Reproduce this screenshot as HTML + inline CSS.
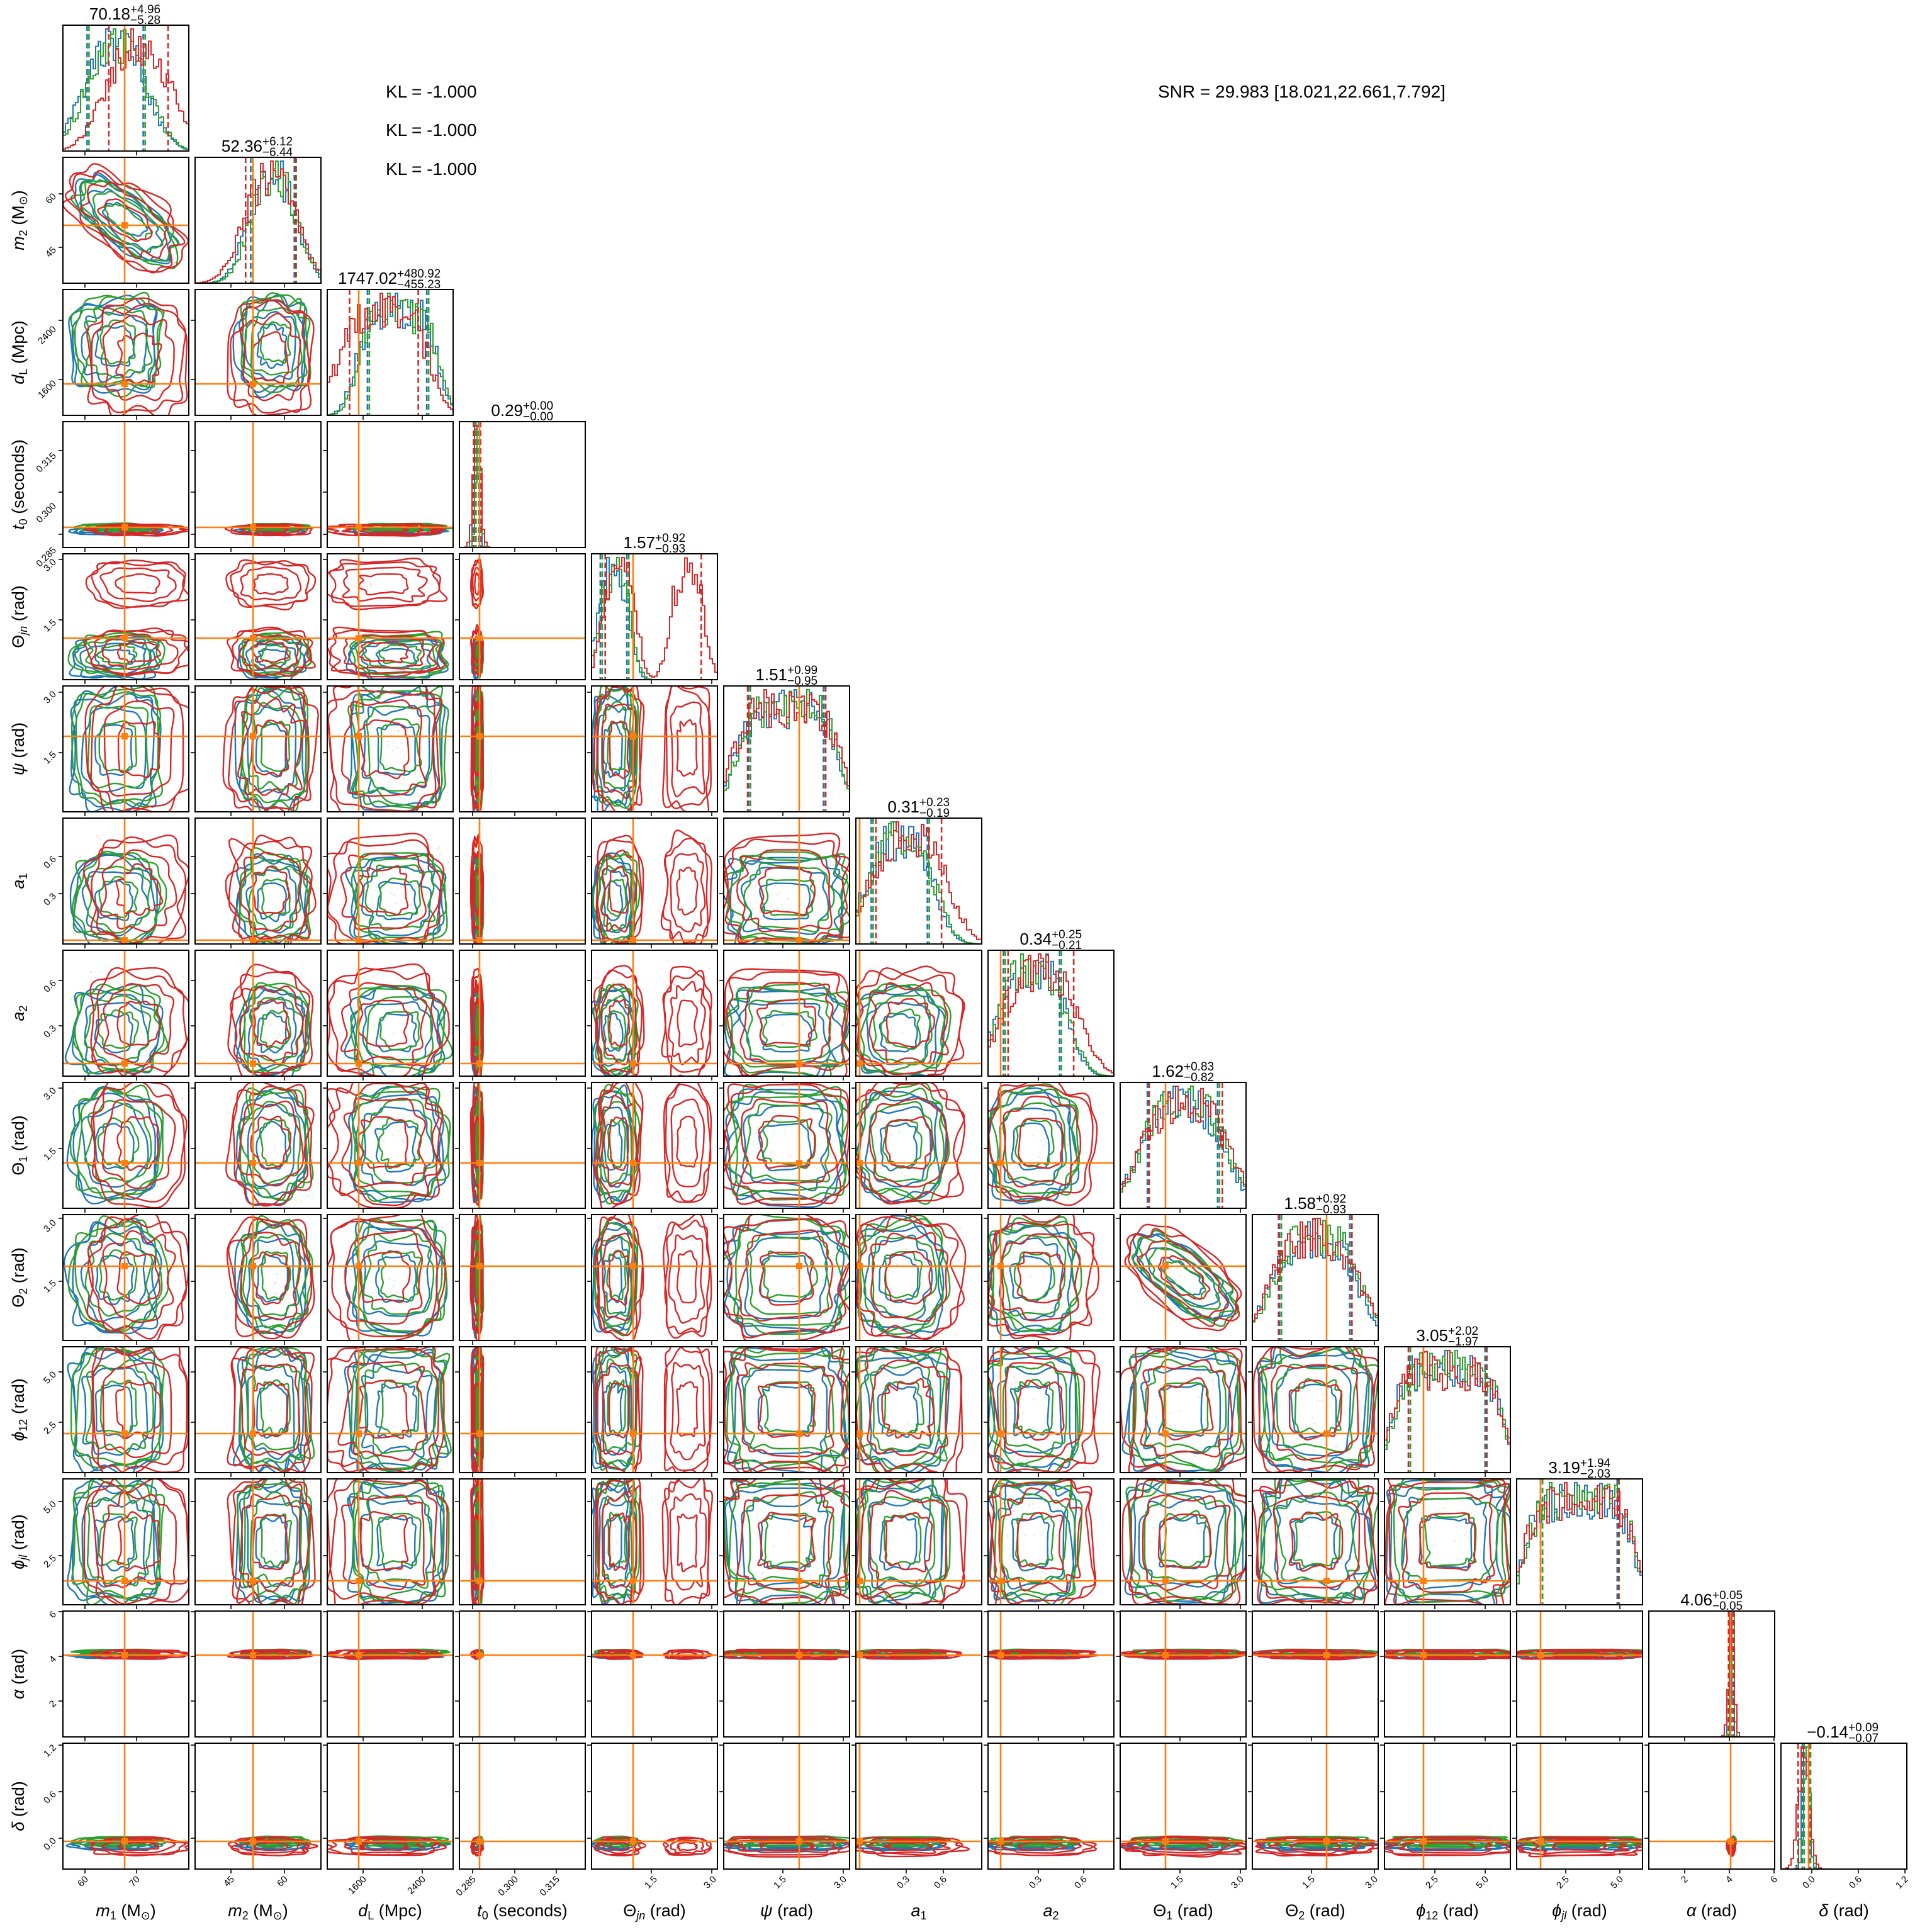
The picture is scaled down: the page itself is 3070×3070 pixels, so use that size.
<!DOCTYPE html>
<html><head><meta charset="utf-8"><style>
html,body{margin:0;padding:0;background:#fff;}
svg{display:block;font-family:"Liberation Sans","DejaVu Sans",sans-serif;}
.t{font-size:26px;fill:#000}
.s{font-size:19px;fill:#000}
.k{font-size:15px;fill:#000}
.l{font-size:27px;fill:#000}
.i{font-style:italic}
</style></head><body>
<svg id="s" xmlns="http://www.w3.org/2000/svg" width="3070" height="3070" viewBox="0 0 3070 3070">
<rect width="3070" height="3070" fill="#fff"/>
<g id="g"></g>

<g>
<text class="t" x="207" y="31" text-anchor="end">70.18</text><text class="s" x="207" y="21">+4.96</text><text class="s" x="207" y="38">−5.28</text>
<text class="t" x="417" y="241" text-anchor="end">52.36</text><text class="s" x="417" y="231">+6.12</text><text class="s" x="417" y="248">−6.44</text>
<text class="t" x="631" y="451" text-anchor="end">1747.02</text><text class="s" x="631" y="441">+480.92</text><text class="s" x="631" y="458">−455.23</text>
<text class="t" x="831" y="661" text-anchor="end">0.29</text><text class="s" x="831" y="651">+0.00</text><text class="s" x="831" y="668">−0.00</text>
<text class="t" x="1041" y="871" text-anchor="end">1.57</text><text class="s" x="1041" y="861">+0.92</text><text class="s" x="1041" y="878">−0.93</text>
<text class="t" x="1251" y="1081" text-anchor="end">1.51</text><text class="s" x="1251" y="1071">+0.99</text><text class="s" x="1251" y="1088">−0.95</text>
<text class="t" x="1461" y="1291" text-anchor="end">0.31</text><text class="s" x="1461" y="1281">+0.23</text><text class="s" x="1461" y="1298">−0.19</text>
<text class="t" x="1671" y="1501" text-anchor="end">0.34</text><text class="s" x="1671" y="1491">+0.25</text><text class="s" x="1671" y="1508">−0.21</text>
<text class="t" x="1881" y="1711" text-anchor="end">1.62</text><text class="s" x="1881" y="1701">+0.83</text><text class="s" x="1881" y="1718">−0.82</text>
<text class="t" x="2091" y="1921" text-anchor="end">1.58</text><text class="s" x="2091" y="1911">+0.92</text><text class="s" x="2091" y="1928">−0.93</text>
<text class="t" x="2301" y="2131" text-anchor="end">3.05</text><text class="s" x="2301" y="2121">+2.02</text><text class="s" x="2301" y="2138">−1.97</text>
<text class="t" x="2511" y="2341" text-anchor="end">3.19</text><text class="s" x="2511" y="2331">+1.94</text><text class="s" x="2511" y="2348">−2.03</text>
<text class="t" x="2721" y="2551" text-anchor="end">4.06</text><text class="s" x="2721" y="2541">+0.05</text><text class="s" x="2721" y="2558">−0.05</text>
<text class="t" x="2937" y="2761" text-anchor="end">−0.14</text><text class="s" x="2937" y="2751">+0.09</text><text class="s" x="2937" y="2768">−0.07</text>
</g>

<text font-size="28" x="613" y="155">KL = -1.000</text>
<text font-size="28" x="613" y="216">KL = -1.000</text>
<text font-size="28" x="613" y="278">KL = -1.000</text>
<text font-size="28" x="1840" y="155">SNR = 29.983 [18.021,22.661,7.792]</text>

<g class="l" text-anchor="middle">
<text transform="translate(38,350) rotate(-90)"><tspan class="i">m</tspan><tspan font-size="18" dy="5">2</tspan><tspan dy="-5"> (M</tspan><tspan font-size="18" dy="5">⊙</tspan><tspan dy="-5">)</tspan></text>
<text transform="translate(38,560) rotate(-90)"><tspan class="i">d</tspan><tspan font-size="18" dy="5">L</tspan><tspan dy="-5"> (Mpc)</tspan></text>
<text transform="translate(38,770) rotate(-90)"><tspan class="i">t</tspan><tspan font-size="18" dy="5">0</tspan><tspan dy="-5"> (seconds)</tspan></text>
<text transform="translate(38,980) rotate(-90)"><tspan>Θ</tspan><tspan class="i" font-size="18" dy="5">jn</tspan><tspan dy="-5"> (rad)</tspan></text>
<text transform="translate(38,1190) rotate(-90)"><tspan class="i">ψ</tspan><tspan> (rad)</tspan></text>
<text transform="translate(38,1400) rotate(-90)"><tspan class="i">a</tspan><tspan font-size="18" dy="5">1</tspan></text>
<text transform="translate(38,1610) rotate(-90)"><tspan class="i">a</tspan><tspan font-size="18" dy="5">2</tspan></text>
<text transform="translate(38,1820) rotate(-90)"><tspan>Θ</tspan><tspan font-size="18" dy="5">1</tspan><tspan dy="-5"> (rad)</tspan></text>
<text transform="translate(38,2030) rotate(-90)"><tspan>Θ</tspan><tspan font-size="18" dy="5">2</tspan><tspan dy="-5"> (rad)</tspan></text>
<text transform="translate(38,2240) rotate(-90)"><tspan class="i">ϕ</tspan><tspan font-size="18" dy="5">12</tspan><tspan dy="-5"> (rad)</tspan></text>
<text transform="translate(38,2450) rotate(-90)"><tspan class="i">ϕ</tspan><tspan class="i" font-size="18" dy="5">jl</tspan><tspan dy="-5"> (rad)</tspan></text>
<text transform="translate(38,2660) rotate(-90)"><tspan class="i">α</tspan><tspan> (rad)</tspan></text>
<text transform="translate(38,2870) rotate(-90)"><tspan class="i">δ</tspan><tspan> (rad)</tspan></text>
</g>

<g class="l" text-anchor="middle">
<text x="200" y="3045"><tspan class="i">m</tspan><tspan font-size="18" dy="5">1</tspan><tspan dy="-5"> (M</tspan><tspan font-size="18" dy="5">⊙</tspan><tspan dy="-5">)</tspan></text>
<text x="410" y="3045"><tspan class="i">m</tspan><tspan font-size="18" dy="5">2</tspan><tspan dy="-5"> (M</tspan><tspan font-size="18" dy="5">⊙</tspan><tspan dy="-5">)</tspan></text>
<text x="620" y="3045"><tspan class="i">d</tspan><tspan font-size="18" dy="5">L</tspan><tspan dy="-5"> (Mpc)</tspan></text>
<text x="830" y="3045"><tspan class="i">t</tspan><tspan font-size="18" dy="5">0</tspan><tspan dy="-5"> (seconds)</tspan></text>
<text x="1040" y="3045"><tspan>Θ</tspan><tspan class="i" font-size="18" dy="5">jn</tspan><tspan dy="-5"> (rad)</tspan></text>
<text x="1250" y="3045"><tspan class="i">ψ</tspan><tspan> (rad)</tspan></text>
<text x="1460" y="3045"><tspan class="i">a</tspan><tspan font-size="18" dy="5">1</tspan></text>
<text x="1670" y="3045"><tspan class="i">a</tspan><tspan font-size="18" dy="5">2</tspan></text>
<text x="1880" y="3045"><tspan>Θ</tspan><tspan font-size="18" dy="5">1</tspan><tspan dy="-5"> (rad)</tspan></text>
<text x="2090" y="3045"><tspan>Θ</tspan><tspan font-size="18" dy="5">2</tspan><tspan dy="-5"> (rad)</tspan></text>
<text x="2300" y="3045"><tspan class="i">ϕ</tspan><tspan font-size="18" dy="5">12</tspan><tspan dy="-5"> (rad)</tspan></text>
<text x="2510" y="3045"><tspan class="i">ϕ</tspan><tspan class="i" font-size="18" dy="5">jl</tspan><tspan dy="-5"> (rad)</tspan></text>
<text x="2720" y="3045"><tspan class="i">α</tspan><tspan> (rad)</tspan></text>
<text x="2930" y="3045"><tspan class="i">δ</tspan><tspan> (rad)</tspan></text>
</g>

<g class="k" text-anchor="end">
<text transform="translate(90,313) rotate(-45)">60</text>
<text transform="translate(90,398) rotate(-45)">45</text>
<text transform="translate(90,524) rotate(-45)">2400</text>
<text transform="translate(90,610) rotate(-45)">1600</text>
<text transform="translate(90,725) rotate(-45)">0.315</text>
<text transform="translate(90,805) rotate(-45)">0.300</text>
<text transform="translate(90,875) rotate(-45)">0.285</text>
<text transform="translate(90,894) rotate(-45)">3.0</text>
<text transform="translate(90,990) rotate(-45)">1.5</text>
<text transform="translate(90,1104) rotate(-45)">3.0</text>
<text transform="translate(90,1200) rotate(-45)">1.5</text>
<text transform="translate(90,1366) rotate(-45)">0.6</text>
<text transform="translate(90,1425) rotate(-45)">0.3</text>
<text transform="translate(90,1563) rotate(-45)">0.6</text>
<text transform="translate(90,1635) rotate(-45)">0.3</text>
<text transform="translate(90,1734) rotate(-45)">3.0</text>
<text transform="translate(90,1830) rotate(-45)">1.5</text>
<text transform="translate(90,1944) rotate(-45)">3.0</text>
<text transform="translate(90,2040) rotate(-45)">1.5</text>
<text transform="translate(90,2185) rotate(-45)">5.0</text>
<text transform="translate(90,2265) rotate(-45)">2.5</text>
<text transform="translate(90,2391) rotate(-45)">5.0</text>
<text transform="translate(90,2477) rotate(-45)">2.5</text>
<text transform="translate(90,2566) rotate(-45)">6</text>
<text transform="translate(90,2637) rotate(-45)">4</text>
<text transform="translate(90,2708) rotate(-45)">2</text>
<text transform="translate(90,2778) rotate(-45)">1.2</text>
<text transform="translate(90,2852) rotate(-45)">0.6</text>
<text transform="translate(90,2926) rotate(-45)">0.0</text>
</g>

<g class="k" text-anchor="end">
<text transform="translate(141,2987) rotate(-45)">60</text>
<text transform="translate(223,2987) rotate(-45)">70</text>
<text transform="translate(373,2987) rotate(-45)">45</text>
<text transform="translate(458,2987) rotate(-45)">60</text>
<text transform="translate(583,2987) rotate(-45)">1600</text>
<text transform="translate(677,2987) rotate(-45)">2400</text>
<text transform="translate(757,2987) rotate(-45)">0.285</text>
<text transform="translate(824,2987) rotate(-45)">0.300</text>
<text transform="translate(890,2987) rotate(-45)">0.315</text>
<text transform="translate(1045,2987) rotate(-45)">1.5</text>
<text transform="translate(1139,2987) rotate(-45)">3.0</text>
<text transform="translate(1250,2987) rotate(-45)">1.5</text>
<text transform="translate(1346,2987) rotate(-45)">3.0</text>
<text transform="translate(1446,2987) rotate(-45)">0.3</text>
<text transform="translate(1505,2987) rotate(-45)">0.6</text>
<text transform="translate(1656,2987) rotate(-45)">0.3</text>
<text transform="translate(1728,2987) rotate(-45)">0.6</text>
<text transform="translate(1881,2987) rotate(-45)">1.5</text>
<text transform="translate(1977,2987) rotate(-45)">3.0</text>
<text transform="translate(2090,2987) rotate(-45)">1.5</text>
<text transform="translate(2190,2987) rotate(-45)">3.0</text>
<text transform="translate(2286,2987) rotate(-45)">2.5</text>
<text transform="translate(2366,2987) rotate(-45)">5.0</text>
<text transform="translate(2494,2987) rotate(-45)">2.5</text>
<text transform="translate(2580,2987) rotate(-45)">5.0</text>
<text transform="translate(2683,2987) rotate(-45)">2</text>
<text transform="translate(2754,2987) rotate(-45)">4</text>
<text transform="translate(2825,2987) rotate(-45)">6</text>
<text transform="translate(2885,2987) rotate(-45)">0.0</text>
<text transform="translate(2959,2987) rotate(-45)">0.6</text>
<text transform="translate(3033,2987) rotate(-45)">1.2</text>
</g>
</svg>
<script>
(function(){
var seed=12345;function R(){seed|=0;seed=seed+0x6D2B79F5|0;var t=Math.imul(seed^seed>>>15,1|seed);t=t+Math.imul(t^t>>>7,61|t)^t;return((t^t>>>14)>>>0)/4294967296;}
var C={b:'#1f77b4',g:'#2ca02c',r:'#d62728',o:'#ff7f0e'};
var P=[
{t:0.49,m:[[0.42,0.36]],r:[[0.6,0.38]],p:2.5},
{t:0.46,m:[[0.62,0.28]],r:[[0.6,0.32]],p:2.5},
{t:0.25,m:[[0.56,0.38]],r:[[0.45,0.44]],p:4},
{t:0.16,m:[[0.14,0.03]],r:[[0.14,0.045]],p:2},
{t:0.33,m:[[0.18,0.17]],r:[[0.22,0.18],[0.76,0.18]],p:3},
{t:0.60,m:[[0.5,0.48]],r:[[0.5,0.5]],p:5},
{t:0.03,m:[[0.35,0.36]],r:[[0.42,0.42]],p:3},
{t:0.10,m:[[0.35,0.36]],r:[[0.42,0.42]],p:3},
{t:0.36,m:[[0.5,0.45]],r:[[0.52,0.47]],p:3},
{t:0.59,m:[[0.5,0.45]],r:[[0.5,0.47]],p:3},
{t:0.31,m:[[0.5,0.49]],r:[[0.5,0.5]],p:6},
{t:0.19,m:[[0.5,0.49]],r:[[0.5,0.5]],p:6},
{t:0.65,m:[[0.655,0.02]],r:[[0.655,0.035]],p:2},
{t:0.22,m:[[0.2,0.04]],r:[[0.18,0.07]],p:2}];
var XT=[[35,117],[57,142],[57,151],[21,88,154],[95,191],[94,190],[80,139],[80,152],[95,191],[94,194],[80,160],[78,164],[57,128,199],[49,123,197]];
var h='';
function curve(cx,cy,ax,ay,px,py){var N=90,hs=[];for(var k=0;k<6;k++)hs.push([2+Math.floor(R()*9),R()*6.283,0.015+R()*0.04]);var d='';for(var i=0;i<N;i++){var t=i/N*6.2832,n=1;for(var q=0;q<hs.length;q++)n+=hs[q][2]*Math.sin(hs[q][0]*t+hs[q][1]);var c=Math.cos(t),s=Math.sin(t);var x=cx+ax*n*(c<0?-1:1)*Math.pow(Math.abs(c),2/px);var y=cy+ay*n*(s<0?-1:1)*Math.pow(Math.abs(s),2/py);d+=(i?'L':'M')+x.toFixed(1)+' '+y.toFixed(1);}return d+'Z';}
var cols=['b','g','r'];
for(var r=1;r<14;r++)for(var c=0;c<r;c++){
 var x0=100+210*c,y0=40+210*r;
 var rot=(r==1&&c==0)||(r==9&&c==8);
 h+='<clipPath id="k'+r+'_'+c+'"><rect x="'+x0+'" y="'+y0+'" width="200" height="200"/></clipPath><g clip-path="url(#k'+r+'_'+c+')">';
 if(rot)h+='<g transform="rotate(38 '+(x0+100)+' '+(y0+100)+')">';
 for(var ci=0;ci<3;ci++){var col=cols[ci];var mx=col=='r'?P[c].r:P[c].m,my=col=='r'?P[r].r:P[r].m;var j=col=='g'?0.02:(col=='b'?-0.01:0);var sc=col=='r'?1.05:1;
  if(rot){mx=[[0.5+j,col=='r'?0.52:0.48]];my=[[0.5,col=='r'?0.26:0.2]];j=0;}
  for(var a=0;a<mx.length;a++)for(var b=0;b<my.length;b++){var M=mx[a],N2=my[b];
   for(var pp=0;pp<14;pp++){h+='<circle cx="'+(x0+200*(M[0]+j+(R()-.5)*2*M[1]*1.05)).toFixed(1)+'" cy="'+(y0+200*(1-(N2[0]+j+(R()-.5)*2*N2[1]*1.05))).toFixed(1)+'" r="1.5" fill="'+C[col]+'" opacity=".15"/>';}
   var lv=[0.4,0.68,0.9,0.97];
   for(var l=0;l<lv.length;l++){var ax=Math.max(2.5,200*M[1]*lv[l]*sc),ay=Math.max(2.5,200*N2[1]*lv[l]*sc);
    h+='<path d="'+curve(x0+200*(M[0]+j),y0+200*(1-(N2[0]+j)),ax,ay,rot?2.5:P[c].p,rot?2.5:P[r].p)+'" fill="none" stroke="'+C[col]+'" stroke-width="2.4"/>';}
  }}
 if(rot)h+='</g>';
 var ox=x0+200*P[c].t,oy=y0+200*(1-P[r].t);
 h+='<line x1="'+ox+'" y1="'+y0+'" x2="'+ox+'" y2="'+(y0+200)+'" stroke="'+C.o+'" stroke-width="2.6"/><line x1="'+x0+'" y1="'+oy+'" x2="'+(x0+200)+'" y2="'+oy+'" stroke="'+C.o+'" stroke-width="2.6"/><rect x="'+(ox-5)+'" y="'+(oy-5)+'" width="10" height="10" fill="'+C.o+'"/>';
 h+='</g><rect x="'+x0+'" y="'+y0+'" width="200" height="200" fill="none" stroke="#000" stroke-width="2"/>';
 for(var t=0;t<XT[c].length;t++)h+='<line x1="'+(x0+XT[c][t])+'" y1="'+(y0+200)+'" x2="'+(x0+XT[c][t])+'" y2="'+(y0+207)+'" stroke="#000" stroke-width="1.6"/>';
 for(var t=0;t<XT[r].length;t++){var yy=y0+200-XT[r][t];h+='<line x1="'+(x0-7)+'" y1="'+yy+'" x2="'+x0+'" y2="'+yy+'" stroke="#000" stroke-width="1.6"/>';}
}
for(var c=0;c<14;c++){
 var x0=100+210*c,y0=40+210*c;
 h+='<clipPath id="d'+c+'"><rect x="'+x0+'" y="'+y0+'" width="200" height="200"/></clipPath><g clip-path="url(#d'+c+')">';
 for(var ci=0;ci<3;ci++){var col=cols[ci];var md=col=='r'?P[c].r:P[c].m;var j=col=='g'?0.01:(col=='b'?-0.005:0);
  var B=50,v=[],mxv=0;for(var i=0;i<B;i++){var u=(i+.5)/B,d=0;for(var q=0;q<md.length;q++){var z=Math.abs((u-md[q][0]-j)/md[q][1]);d+=Math.exp(-1.3*Math.pow(z,P[c].p));}d*=(1+0.4*(R()-.5));v.push(d);if(d>mxv)mxv=d;}
  var p='M'+x0+' '+(y0+200);for(var i=0;i<B;i++){var yy=(y0+200-194*v[i]/mxv).toFixed(1);p+='L'+(x0+i*4)+' '+yy+'L'+(x0+i*4+4)+' '+yy;}p+='L'+(x0+200)+' '+(y0+200);
  h+='<path d="'+p+'" fill="none" stroke="'+C[col]+'" stroke-width="2"/>';
  var lo=md[0][0]+j-0.62*md[0][1],hi=md[md.length-1][0]+j+0.62*md[md.length-1][1];
  [lo,hi].forEach(function(qv){var xx=(x0+200*qv).toFixed(1);h+='<line x1="'+xx+'" y1="'+y0+'" x2="'+xx+'" y2="'+(y0+200)+'" stroke="'+C[col]+'" stroke-width="2.6" stroke-dasharray="9,5"/>';});
 }
 var ox=x0+200*P[c].t;h+='<line x1="'+ox+'" y1="'+y0+'" x2="'+ox+'" y2="'+(y0+200)+'" stroke="'+C.o+'" stroke-width="2.6"/>';
 h+='</g><rect x="'+x0+'" y="'+y0+'" width="200" height="200" fill="none" stroke="#000" stroke-width="2"/>';
 for(var t=0;t<XT[c].length;t++)h+='<line x1="'+(x0+XT[c][t])+'" y1="'+(y0+200)+'" x2="'+(x0+XT[c][t])+'" y2="'+(y0+207)+'" stroke="#000" stroke-width="1.6"/>';
}
document.getElementById('g').innerHTML=h;
})();
</script>
</body></html>
